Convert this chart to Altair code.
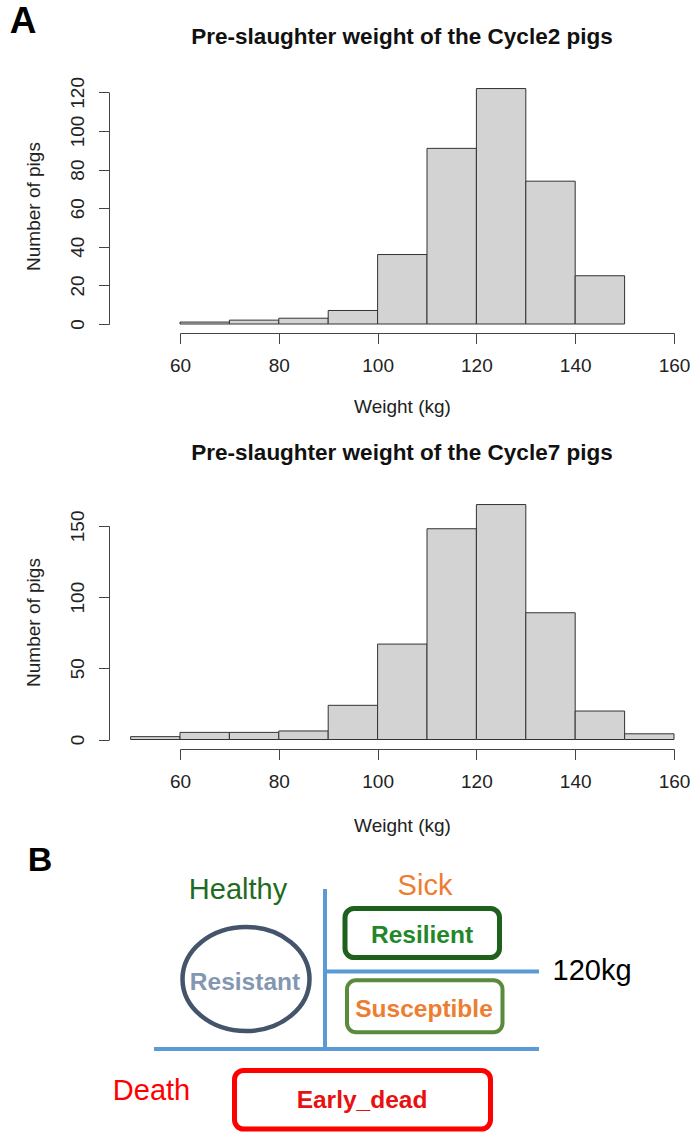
import altair as alt
import pandas as pd

# ---------------- Panel A data ----------------
bin_width = 10
c2_start = [60, 70, 80, 90, 100, 110, 120, 130, 140]
c2_count = [1, 2, 3, 7, 36, 91, 122, 74, 25]
c7_start = [50, 60, 70, 80, 90, 100, 110, 120, 130, 140, 150]
c7_count = [2, 5, 5, 6, 24, 67, 148, 165, 89, 20, 4]
x_ticks = [60, 80, 100, 120, 140, 160]
c2_y_ticks = [0, 20, 40, 60, 80, 100, 120]
c7_y_ticks = [0, 50, 100, 150]
hist_titles = ["Pre-slaughter weight of the Cycle2 pigs",
               "Pre-slaughter weight of the Cycle7 pigs"]
x_title = "Weight (kg)"
y_title = "Number of pigs"
panel_letters = ["A", "B"]

# ---------------- Panel B diagram content ----------------
group_labels = ["Healthy", "Sick", "120kg", "Death"]
group_colors = ["#1f6b21", "#ed7d31", "#000000", "#ff0000"]
box_labels = ["Resilient", "Susceptible", "Early_dead"]
box_text_colors = ["#23872a", "#ed7d31", "#e81010"]
box_stroke_colors = ["#1d611d", "#5a8a3c", "#ff0000"]
box_stroke_widths = [5, 4, 5]
circle_label = "Resistant"

# ---------------- layout (pixels) ----------------
W, H = 699, 1133
X_RANGE = [180, 674]
Y_AXIS_X = 109
HIST = [
    dict(y_range=[324, 92.4], x_axis_y=333, y_title_y=206, x_title_off=64, title_y=44),
    dict(y_range=[739.5, 525.9], x_axis_y=749, y_title_y=622, x_title_off=67, title_y=460),
]
FONT = "Liberation Sans"
AXIS_COL = "#444444"
TEXT_COL = "#222222"

PX = alt.Scale(domain=[0, W], range=[0, W], nice=False, zero=False)
PY = alt.Scale(domain=[0, H], range=[0, H], nice=False, zero=False)


def hist(starts, counts, y_ticks, lay):
    df = pd.DataFrame({"start": starts,
                       "end": [s + bin_width for s in starts],
                       "count": counts})
    xs = alt.Scale(domain=[x_ticks[0], x_ticks[-1]], range=X_RANGE, nice=False, zero=False)
    ys = alt.Scale(domain=[y_ticks[0], y_ticks[-1]], range=lay["y_range"], nice=False, zero=False)
    common = dict(grid=False, domainColor=AXIS_COL, tickColor=AXIS_COL, tickSize=10.5,
                  labelFont=FONT, labelFontSize=19, labelColor=TEXT_COL, labelOverlap=False,
                  labelFlush=False, titleFont=FONT, titleFontSize=19,
                  titleFontWeight="normal", titleColor=TEXT_COL, format="d")
    xaxis = alt.Axis(orient="bottom", offset=lay["x_axis_y"] - H, values=x_ticks,
                     labelPadding=13, title=x_title, titleX=402,
                     titleY=lay["x_title_off"], titleBaseline="top", titleAlign="center",
                     **common)
    yaxis = alt.Axis(orient="left", offset=-Y_AXIS_X, values=y_ticks,
                     labelPadding=15, labelAngle=270, labelAlign="center",
                     labelBaseline="alphabetic", title=y_title, titleX=33 - Y_AXIS_X,
                     titleY=lay["y_title_y"], titleAngle=270, titleAlign="center",
                     titleBaseline="middle", **common)
    return alt.Chart(df).mark_rect(fill="#d3d3d3", stroke="#333333", strokeWidth=1).encode(
        x=alt.X("start:Q", scale=xs, axis=xaxis),
        x2="end:Q",
        y=alt.Y("count:Q", scale=ys, axis=yaxis),
        y2=alt.datum(0),
    )


h1 = hist(c2_start, c2_count, c2_y_ticks, HIST[0])
h2 = hist(c7_start, c7_count, c7_y_ticks, HIST[1])

# histogram titles
title_df = pd.DataFrame({"t": hist_titles, "x": [402, 402],
                         "y": [HIST[0]["title_y"], HIST[1]["title_y"]]})
titles = alt.Chart(title_df).mark_text(font=FONT, fontSize=22.5, fontWeight="bold",
                                       color="#111111", align="center",
                                       baseline="alphabetic").encode(
    x=alt.X("x:Q", scale=PX, axis=None), y=alt.Y("y:Q", scale=PY, axis=None), text="t:N")

# panel letters
letter_df = pd.DataFrame({"t": panel_letters, "x": [23, 40], "y": [33, 871], "s": [37, 34]})
letters = alt.Chart(letter_df).mark_text(font=FONT, fontWeight="bold", color="#000000",
                                         align="center", baseline="alphabetic").encode(
    x=alt.X("x:Q", scale=PX, axis=None), y=alt.Y("y:Q", scale=PY, axis=None), text="t:N",
    size=alt.Size("s:Q", scale=None))

# diagram lines
line_df = pd.DataFrame({"x": [325, 325, 154], "x2": [325, 539, 539],
                        "y": [889, 971.5, 1049], "y2": [1049, 971.5, 1049]})
lines = alt.Chart(line_df).mark_rule(color="#5b9bd5", strokeWidth=4).encode(
    x=alt.X("x:Q", scale=PX, axis=None), x2="x2:Q",
    y=alt.Y("y:Q", scale=PY, axis=None), y2="y2:Q")

# rounded boxes
box_df = pd.DataFrame({"label": box_labels, "x": [345, 347, 234.5], "x2": [499.5, 502.5, 490.5],
                       "y": [908.5, 980.3, 1070.5], "y2": [957.5, 1032.3, 1129],
                       "stroke": box_stroke_colors, "sw": box_stroke_widths})
boxes = alt.Chart(box_df).mark_rect(fill="#ffffff", cornerRadius=9).encode(
    x=alt.X("x:Q", scale=PX, axis=None), x2="x2:Q",
    y=alt.Y("y:Q", scale=PY, axis=None), y2="y2:Q",
    stroke=alt.Stroke("stroke:N", scale=None),
    strokeWidth=alt.StrokeWidth("sw:Q", scale=None))

# ellipse (custom symbol path, unit space)
ellipse_path = "M -1 0 A 1 0.82 0 1 1 1 0 A 1 0.82 0 1 1 -1 0 Z"
ell_df = pd.DataFrame({"label": [circle_label], "x": [246], "y": [979]})
ellipse = alt.Chart(ell_df).mark_point(shape=ellipse_path, filled=False, size=127 ** 2,
                                       stroke="#44546a", strokeWidth=4.5, opacity=1).encode(
    x=alt.X("x:Q", scale=PX, axis=None), y=alt.Y("y:Q", scale=PY, axis=None))

# bold labels inside shapes
bold_df = pd.DataFrame({"t": box_labels + [circle_label],
                        "x": [422, 424, 362, 245], "y": [943.3, 1016.7, 1108, 990],
                        "c": box_text_colors + ["#8497b0"]})
bold_text = alt.Chart(bold_df).mark_text(font=FONT, fontSize=24.5, fontWeight="bold",
                                         align="center", baseline="alphabetic").encode(
    x=alt.X("x:Q", scale=PX, axis=None), y=alt.Y("y:Q", scale=PY, axis=None), text="t:N",
    color=alt.Color("c:N", scale=None))

# group labels
grp_df = pd.DataFrame({"t": group_labels, "x": [238, 425, 592, 151.5],
                       "y": [899, 895, 980, 1100], "c": group_colors})
grp_text = alt.Chart(grp_df).mark_text(font=FONT, fontSize=29, align="center",
                                       baseline="alphabetic").encode(
    x=alt.X("x:Q", scale=PX, axis=None), y=alt.Y("y:Q", scale=PY, axis=None), text="t:N",
    color=alt.Color("c:N", scale=None))

chart = alt.layer(h1, h2, titles, letters, lines, boxes, ellipse, bold_text, grp_text).resolve_scale(
    x="independent", y="independent"
).properties(
    width=W, height=H, padding=0, background="white",
    autosize=alt.AutoSizeParams(type="none"),
).configure_view(strokeWidth=0)

chart.save("out.html", embed_options={"renderer": "svg", "actions": False})
